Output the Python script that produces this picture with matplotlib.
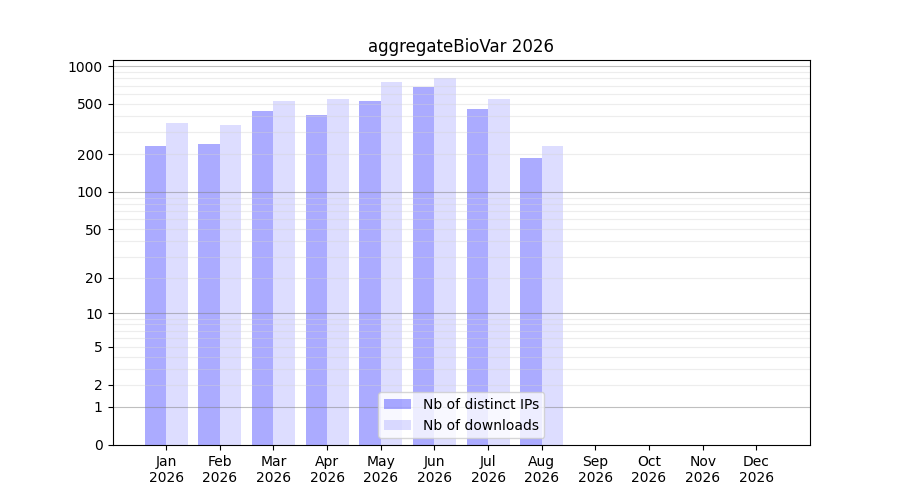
import numpy as np
import matplotlib
matplotlib.use("Agg")
import matplotlib.pyplot as plt
from matplotlib.ticker import FixedLocator, FixedFormatter

months = ["Jan", "Feb", "Mar", "Apr", "May", "Jun", "Jul", "Aug", "Sep", "Oct", "Nov", "Dec"]
year = "2026"
distinct_ips = [233, 241, 440, 409, 529, 683, 457, 186]
downloads = [354, 341, 529, 549, 747, 804, 549, 233]
ytick_values = [0, 1, 2, 5, 10, 20, 50, 100, 200, 500, 1000]

fig, ax = plt.subplots(figsize=(9, 5), dpi=100)
ax.set_yscale('function', functions=(lambda v: np.log10(np.clip(v, 0, None) + 1),
                                     lambda t: 10 ** t - 1))

x = np.arange(len(distinct_ips))
w = 0.4
ax.bar(x - w / 2, distinct_ips, width=w, color='blue', alpha=0.33, label='Nb of distinct IPs', zorder=1)
ax.bar(x + w / 2, downloads, width=w, color='#aaaaff', alpha=0.4, label='Nb of downloads', zorder=1)

ax.set_xticks(np.arange(len(months)))
ax.set_xticklabels([f"{m}\n{year}" for m in months])
ax.set_xlim(-1, 12)
ax.set_ylim(0, 1116)

ax.yaxis.set_major_locator(FixedLocator(ytick_values))
ax.yaxis.set_major_formatter(FixedFormatter([str(v) for v in ytick_values]))
ax.yaxis.set_minor_locator(FixedLocator([]))

for dec in [1, 10, 100, 1000]:
    ax.axhline(dec, color='gray', alpha=0.5, lw=0.8, zorder=2)
for dec in [1, 10, 100]:
    for k in range(2, 10):
        ax.axhline(dec * k, color='lightgray', alpha=0.4, lw=0.8, zorder=2)

ax.set_title("aggregateBioVar 2026")
ax.legend(loc='lower center')
fig.savefig("out.png")
